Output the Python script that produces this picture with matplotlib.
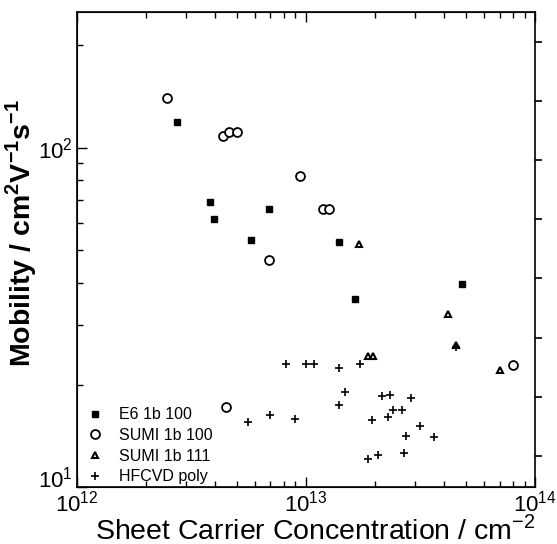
import numpy as np
import matplotlib.pyplot as plt
import matplotlib.transforms as mtransforms
from matplotlib.ticker import LogLocator, NullFormatter, FixedLocator

plt.rcParams['font.family'] = ['Liberation Sans', 'DejaVu Sans']
plt.rcParams['mathtext.fontset'] = 'custom'
plt.rcParams['mathtext.rm'] = 'Liberation Sans'
plt.rcParams['mathtext.bf'] = 'Liberation Sans:bold'

# sheet carrier concentration (cm^-2) and mobility (cm^2/Vs)
e6_n = [2.74e12, 3.83e12, 3.95e12, 5.77e12, 6.90e12, 1.39e13, 1.64e13, 4.82e13]
e6_mu = [119, 69.0, 61.4, 53.3, 66.1, 52.6, 35.9, 39.6]

sumi100_n = [2.48e12, 4.36e12, 4.61e12, 5.00e12, 9.39e12, 1.19e13, 1.26e13,
             6.90e12, 4.47e12, 8.03e13]
sumi100_mu = [140, 108, 111, 111, 82.6, 66.1, 66.1, 46.6, 17.2, 22.8]

sumi111_n = [1.71e13, 4.19e13, 4.54e13, 1.86e13, 1.97e13, 7.01e13]
sumi111_mu = [51.9, 32.4, 26.2, 24.3, 24.3, 22.1]

hfcvd_n = [8.17e12, 9.96e12, 1.08e13, 1.39e13, 1.73e13, 1.48e13, 1.39e13,
           5.58e12, 6.98e12, 8.93e12, 2.15e13, 2.32e13, 2.87e13, 2.40e13,
           2.62e13, 2.29e13, 1.95e13, 3.16e13, 2.74e13, 3.61e13, 1.87e13,
           2.07e13, 2.67e13, 4.50e13]
hfcvd_mu = [23.1, 23.1, 23.1, 22.4, 23.0, 19.1, 17.4, 15.5, 16.3, 15.8,
            18.5, 18.6, 18.3, 16.8, 16.9, 16.1, 15.7, 15.1, 14.1, 14.0,
            12.1, 12.4, 12.6, 25.8]

fig = plt.figure(figsize=(5.57, 5.44), dpi=100)
ax = fig.add_axes([0.138, 0.105, 0.8225, 0.873])

ax.plot(e6_n, e6_mu, 's', color='black', markersize=4.8, label='E6 1b 100')
ax.plot(sumi100_n, sumi100_mu, 'o', mfc='white', mec='black', mew=1.3,
        markersize=6.4, label='SUMI 1b 100')
ax.plot(sumi111_n, sumi111_mu, '^', mfc='white', mec='black', mew=1.5,
        markersize=4.2, label='SUMI 1b 111')
ax.plot(hfcvd_n, hfcvd_mu, '+', color='black', mew=1.2, markersize=6,
        label='HFCVD poly')

ax.set_xscale('log')
ax.set_yscale('log')
ax.set_xlim(1e12, 1e14)
ax.set_ylim(10, 251)

ax.xaxis.set_major_locator(LogLocator(base=10, numticks=5))
ax.xaxis.set_minor_locator(LogLocator(base=10, subs=np.arange(2, 10), numticks=20))
ax.xaxis.set_minor_formatter(NullFormatter())
ax.yaxis.set_major_locator(FixedLocator([10, 100]))
ax.yaxis.set_minor_locator(LogLocator(base=10, subs=np.arange(2, 10), numticks=20))
ax.yaxis.set_minor_formatter(NullFormatter())

ax.tick_params(which='both', direction='in', top=True, right=True,
               labelsize=16, width=1)
ax.tick_params(axis='x', pad=3)
ax.tick_params(axis='y', pad=3)
ax.tick_params(which='major', length=7)
ax.tick_params(which='minor', length=4)
for s in ax.spines.values():
    s.set_linewidth(1.2)

# lift the bottom y label a little off the x labels
fig.canvas.draw()
lift = mtransforms.ScaledTranslation(0, 7 / 72, fig.dpi_scale_trans)
ylabels = ax.yaxis.get_majorticklabels()
ylabels[0].set_transform(ylabels[0].get_transform() + lift)

# extra outward ticks on the right edge
ax2 = ax.twinx()
ax2.set_ylim(-0.52, 7.5)
ax2.yaxis.set_major_locator(FixedLocator(range(8)))
ax2.tick_params(axis='y', direction='out', length=5, width=1.2, labelright=False)
ax2.spines['right'].set_visible(False)

ax.set_xlabel('Sheet Carrier Concentration / cm$^{-2}$', fontsize=20.5)
ax.xaxis.set_label_coords(0.52, -0.06)
ax.set_ylabel(r'Mobility / cm$^\mathbf{2}$V$^\mathbf{-1}$s$^\mathbf{-1}$',
              fontsize=20.5, fontweight='bold')
ax.yaxis.set_label_coords(-0.082, 0.535)

ax.legend(loc='lower left', bbox_to_anchor=(-0.01, -0.025), frameon=False,
          fontsize=11.5, handlelength=1.0, handletextpad=1.0,
          labelspacing=0.36, borderaxespad=0.5)

fig.savefig('out.png', dpi=100)
